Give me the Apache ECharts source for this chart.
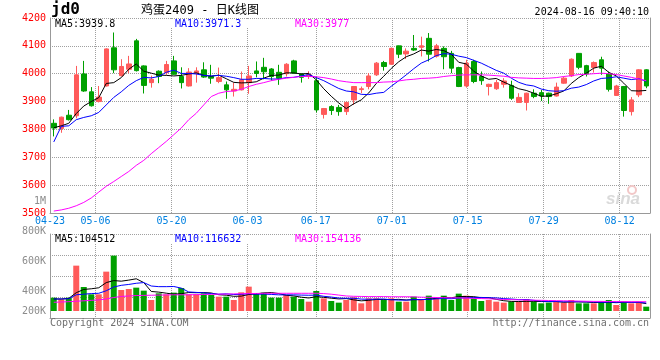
<!DOCTYPE html>
<html><head><meta charset="utf-8">
<script src="https://cdn.jsdelivr.net/npm/echarts@6/dist/echarts.min.js"></script>
<style>html,body{margin:0;padding:0;background:#fff}#c{width:660px;height:360px}</style>
</head><body><div id="c"></div>
<script>
// ---------- data ----------
const dates = ['04-23','04-24','04-25','04-26','04-29','04-30','05-06','05-07','05-08','05-09','05-10','05-13','05-14','05-15','05-16','05-17','05-20','05-21','05-22','05-23','05-24','05-27','05-28','05-29','05-30','05-31','06-03','06-04','06-05','06-06','06-07','06-11','06-12','06-13','06-14','06-17','06-18','06-19','06-20','06-21','06-24','06-25','06-26','06-27','06-28','07-01','07-02','07-03','07-04','07-05','07-08','07-09','07-10','07-11','07-12','07-15','07-16','07-17','07-18','07-19','07-22','07-23','07-24','07-25','07-26','07-29','07-30','07-31','08-01','08-02','08-05','08-06','08-07','08-08','08-09','08-12','08-13','08-14','08-15','08-16'];
const opens  = [3822,3803,3851,3849,3999,3935,3900,3956,4093,3993,4016,4118,4028,3968,4009,4004,4046,3990,3956,4002,4014,3990,3972,3960,3938,3942,3968,4010,4023,4017,4005,4000,4046,3999,3990,3975,3854,3882,3879,3864,3906,3943,3954,3996,4040,4034,4100,4071,4091,4095,4127,4063,4091,4073,4022,3956,4044,3990,3954,3946,3962,3958,3897,3897,3930,3932,3930,3920,3966,3992,4073,4029,4022,4050,3999,3922,3954,3864,3924,4014];
const closes = [3805,3844,3835,3996,3938,3885,3916,4089,4014,4026,4035,4011,3958,3980,3990,4033,3998,3968,4006,4010,3988,3984,3986,3942,3944,3978,3992,4001,4007,3990,3984,4034,4002,3987,3996,3870,3875,3868,3864,3897,3954,3946,3992,4038,4026,4091,4070,4081,4085,4100,4070,4100,4061,4020,3954,4038,3972,3975,3962,3968,3974,3912,3915,3930,3918,3920,3918,3952,3984,4052,4023,3999,4040,4020,3944,3956,3868,3906,4014,3956];
const lows   = [3775,3788,3832,3840,3935,3882,3897,3954,4002,3990,4002,4008,3929,3950,3966,3996,3996,3947,3954,3968,3985,3964,3966,3910,3918,3940,3928,3987,3980,3975,3960,3990,4000,3968,3981,3861,3839,3852,3849,3852,3888,3930,3944,3992,4011,4032,4056,4053,4082,4062,4044,4058,4016,4002,3952,3950,3966,3960,3922,3942,3950,3906,3897,3868,3912,3902,3892,3918,3964,3988,4016,3990,4004,3996,3936,3920,3846,3850,3916,3948];
const highs  = [3836,3846,3870,4028,4046,3952,3956,4091,4148,4052,4064,4125,4030,3993,4012,4046,4064,4023,4020,4023,4041,4032,4022,3972,3968,4008,4028,4044,4057,4020,4032,4038,4050,4001,4009,3990,3877,3887,3888,3900,3956,3954,4002,4042,4046,4094,4101,4091,4139,4133,4146,4107,4098,4082,4025,4050,4050,4008,3964,3978,3984,3975,3930,3932,3944,3942,3932,3968,3990,4055,4074,4032,4044,4061,4008,3960,3956,3916,4016,4016];
const ma5  = [3806,3813,3822,3857,3884,3900,3914,3965,3968,3986,4016,4035,4009,4002,3995,3994,3992,3994,3999,4003,3994,3991,3995,3982,3969,3967,3968,3971,3984,3994,3995,4003,4003,3999,4001,3978,3946,3919,3895,3875,3892,3906,3931,3965,3991,4019,4043,4061,4071,4085,4081,4087,4083,4070,4041,4035,4009,3992,3980,3983,3970,3958,3946,3940,3930,3919,3920,3928,3938,3965,3986,4002,4020,4027,4005,3992,3966,3939,3938,3940];
const ma10 = [3755,3811,3813,3835,3843,3849,3861,3888,3915,3935,3958,3975,3987,3985,3990,4005,4013,4001,4001,3999,3994,3992,3994,3991,3986,3980,3980,3983,3983,3981,3981,3986,3987,3992,3997,3986,3975,3961,3947,3938,3935,3926,3925,3930,3933,3955,3975,3996,4018,4038,4050,4065,4072,4070,4063,4058,4048,4038,4025,4012,4002,3984,3969,3960,3956,3945,3939,3937,3939,3948,3952,3961,3974,3983,3985,3989,3984,3979,3982,3973];
const ma30 = [3507,3511,3517,3526,3538,3554,3575,3596,3613,3631,3649,3671,3689,3713,3735,3757,3781,3805,3835,3858,3888,3918,3930,3936,3938,3944,3954,3962,3968,3975,3980,3984,3987,3990,3990,3989,3986,3981,3975,3971,3968,3968,3968,3968,3970,3971,3974,3978,3980,3983,3984,3986,3990,3993,3995,3996,3996,3996,3995,3993,3991,3987,3985,3984,3983,3983,3984,3986,3990,3993,3997,3998,4000,4002,4000,3997,3992,3987,3981,3975];
const volumes = [88900,77800,88900,302200,160000,111100,111100,262200,368900,140000,146700,155600,135600,73300,117800,111100,122200,153300,111100,111100,117800,106700,95600,95600,73300,124400,162200,117800,122200,88900,88900,106700,95600,80000,62200,133300,84400,66700,55600,73300,91100,51100,84400,84400,73300,84400,62200,62200,95600,73300,102200,88900,102200,73300,115600,102200,84400,66700,73300,62200,55600,62200,62200,80000,62200,51100,55600,66700,55600,73300,51100,51100,51100,62200,73300,40000,62200,51100,62200,28900];
const volMa5  = [80000,80000,84000,122000,143600,148000,154700,189300,202700,198700,205800,214700,189400,130200,125800,118700,112000,115500,123100,121800,123100,120000,108500,105400,97800,99100,110200,114700,120000,123100,116000,104900,100500,92000,86700,95600,91100,85300,80400,82700,74200,67600,71100,76900,76900,75500,77700,73300,75500,75500,79100,84400,92400,88000,96400,96400,95500,88400,88400,77800,68400,64000,63100,64400,64400,63500,62200,63100,58200,60500,60500,59600,56400,57800,57800,55500,57800,57800,57800,48900];
const volMa10 = [80000,80000,82000,108000,112000,116000,118000,135000,160000,171100,176900,184700,189300,166500,162200,162200,163300,152500,126700,123800,120900,116000,112000,114200,109800,111100,115100,111600,112700,110500,107600,107600,107600,106000,104900,105800,98000,92900,86200,84700,84900,79300,78200,78700,79800,74900,72700,72200,76200,76200,77300,81100,82900,81800,86000,87800,90000,90400,88200,87100,82400,79800,75800,76400,71100,66000,63100,63100,61300,62500,62000,60900,59800,58000,59100,58000,58700,57100,57800,53300];
const volMa30 = [58000,60000,62000,65000,68000,71000,74000,80000,90000,97000,100000,103000,104000,105000,106000,107000,108000,108000,108000,109000,110000,111000,112000,113000,114000,115000,116000,117000,118000,118000,118000,118000,118000,118000,118000,118000,116000,112000,106000,100000,98000,97000,96000,96000,96000,95000,95000,95000,94000,92000,91000,90000,89000,88000,87000,86000,84000,83000,81000,79000,77000,76000,74000,73000,72000,71000,70000,69000,68000,67000,66000,65000,64000,64000,63000,63000,62000,62000,62000,62000];
const dateTickLabels = ['04-23','05-06','05-20','06-03','06-17','07-01','07-15','07-29','08-12'];
const priceTicks = [3500,3600,3700,3800,3900,4000,4100,4200];
const volTickValues = [200000,400000,600000,800000,1000000];
const volTickLabels = ['200K','400K','600K','800K','1M'];
const maNames = ['MA5','MA10','MA30'];
const priceMaLast = ['3939.8','3971.3','3977'];
const volMaLast = ['104512','116632','154136'];
const titleCode = 'jd0';
const titleName = '鸡蛋2409 - 日K线图';
const timeStamp = '2024-08-16 09:40:10';
const copyrightText = 'Copyright 2024 SINA.COM';
const urlText = 'http://finance.sina.com.cn';

// ---------- styles ----------
const RED = '#FF5A5A', GREEN = '#00A000';
const MA_COLORS = ['#000000', '#0000FF', '#FF00FF'];
const MONO = '"DejaVu Sans Mono", "Liberation Mono", monospace';
const GRIDC = '#A0A0A0', BORDER = '#999999';
const dotted = { color: GRIDC, type: [1, 1], width: 1 };
const isTick = (i) => dateTickLabels.indexOf(dates[i]) >= 0;
const L = 50, W = 600;

const chart = echarts.init(document.getElementById('c'), null, { renderer: 'canvas' });

const priceMaSeries = [ma5, ma10, ma30].map((d, k) => ({
  type: 'line', name: maNames[k], xAxisIndex: 0, yAxisIndex: 0, data: d,
  symbol: 'none', silent: true, z: 4, lineStyle: { color: MA_COLORS[k], width: 1 }
}));
const volMaSeries = [volMa5, volMa10, volMa30].map((d, k) => ({
  type: 'line', name: 'V' + maNames[k], xAxisIndex: 2, yAxisIndex: 2, data: d,
  symbol: 'none', silent: true, z: 4, lineStyle: { color: MA_COLORS[k], width: 1 }
}));

function maTexts(values, y) {
  const xs = [55, 175, 295];
  return values.map((v, k) => ({
    type: 'text', z: 101, x: xs[k], y: y,
    style: { text: maNames[k] + ':' + v, font: '10px ' + MONO, fill: MA_COLORS[k], verticalAlign: 'middle', align: 'left' }
  }));
}

const option = {
  animation: false,
  backgroundColor: '#fff',
  grid: [
    { left: L, top: 18, width: W, height: 195, outerBoundsMode: 'none' },
    { left: L, top: 234, width: W, height: 77, outerBoundsMode: 'none' },
    { left: L, top: 234, width: W, height: 84, outerBoundsMode: 'none' },
    { left: L, top: 201, width: W, height: 120, outerBoundsMode: 'none' }
  ],
  xAxis: [
    { type: 'category', gridIndex: 0, data: dates, boundaryGap: true, show: false, position: 'top' },
    { type: 'category', gridIndex: 0, data: dates, boundaryGap: false, position: 'bottom',
      axisLine: { show: true, onZero: false, lineStyle: { color: BORDER } }, axisTick: { show: false },
      axisLabel: { interval: (i) => isTick(i), color: '#0080E0', fontFamily: MONO, fontSize: 10, margin: 3 },
      splitLine: { show: true, interval: (i) => isTick(i), lineStyle: dotted } },
    { type: 'category', gridIndex: 1, data: dates, boundaryGap: true, show: false },
    { type: 'category', gridIndex: 2, data: dates, boundaryGap: false, position: 'bottom',
      axisLine: { show: true, onZero: false, lineStyle: { color: BORDER } }, axisTick: { show: false },
      axisLabel: { show: false },
      splitLine: { show: true, interval: (i) => isTick(i), lineStyle: dotted } },
    { type: 'value', gridIndex: 3, show: false, min: 0, max: 1 }
  ],
  yAxis: [
    { type: 'value', gridIndex: 0, min: priceTicks[0], max: priceTicks[priceTicks.length - 1], interval: 100,
      axisLine: { show: true, lineStyle: { color: BORDER } }, axisTick: { show: false },
      axisLabel: { color: '#FF0000', fontFamily: MONO, fontSize: 10, margin: 4,
        formatter: (v) => { const k = priceTicks.indexOf(v); return k < 0 ? '' : String(priceTicks[k]); } },
      splitLine: { show: true, lineStyle: dotted } },
    { type: 'value', gridIndex: 0, position: 'right', min: priceTicks[0], max: priceTicks[priceTicks.length - 1],
      axisLine: { show: true, lineStyle: { color: BORDER } }, axisTick: { show: false },
      axisLabel: { show: false }, splitLine: { show: false } },
    { type: 'value', gridIndex: 1, min: 0, max: 513000, show: false, splitLine: { show: false } },
    { type: 'value', gridIndex: 2, min: 0, max: 4, interval: 1,
      axisLine: { show: true, lineStyle: { color: BORDER } }, axisTick: { show: false },
      axisLabel: { show: false }, splitLine: { show: true, lineStyle: dotted } },
    { type: 'value', gridIndex: 2, position: 'right', min: 0, max: 4,
      axisLine: { show: true, lineStyle: { color: BORDER } }, axisTick: { show: false },
      axisLabel: { show: false }, splitLine: { show: false } },
    { type: 'value', gridIndex: 3, min: volTickValues[0], max: volTickValues[volTickValues.length - 1], interval: 200000,
      axisLine: { show: false }, axisTick: { show: false }, splitLine: { show: false },
      axisLabel: { color: '#8C8C8C', fontFamily: MONO, fontSize: 10, margin: 4,
        showMinLabel: true, showMaxLabel: true, hideOverlap: false,
        formatter: (v) => {
          const k = volTickValues.indexOf(v);
          if (k < 0) return '';
          return k === 0 ? '{low|' + volTickLabels[k] + '}' : volTickLabels[k];
        },
        rich: { low: { color: '#8C8C8C', fontFamily: MONO, fontSize: 10, padding: [0, 0, 20, 0] } } } }
  ],
  series: [
    { type: 'candlestick', xAxisIndex: 0, yAxisIndex: 0, barWidth: 5, z: 3,
      data: dates.map((d, i) => [opens[i], closes[i], lows[i], highs[i]]),
      itemStyle: { color: RED, color0: GREEN, borderColor: RED, borderColor0: GREEN, borderWidth: 1 } },
    ...priceMaSeries,
    { type: 'bar', xAxisIndex: 2, yAxisIndex: 2, barWidth: 6, z: 3,
      data: volumes.map((v, i) => ({ value: v, itemStyle: { color: closes[i] >= opens[i] ? RED : GREEN } })) },
    ...volMaSeries
  ],
  graphic: [
    { type: 'rect', z: 100, shape: { x: 51, y: 19.5, width: 300, height: 8.5 }, style: { fill: '#fff' } },
    { type: 'rect', z: 100, shape: { x: 51, y: 235, width: 300, height: 8.5 }, style: { fill: '#fff' } },
    ...maTexts(priceMaLast, 24),
    ...maTexts(volMaLast, 239),
    { type: 'text', z: 101, x: 51, y: 10, style: { text: titleCode, font: 'bold 16px ' + MONO, fill: '#000', verticalAlign: 'middle', align: 'left' } },
    { type: 'text', z: 101, x: 200, y: 11, style: { text: titleName, font: '12px "DejaVu Sans Mono", "Noto Sans CJK SC"', fill: '#000', verticalAlign: 'middle', align: 'center' } },
    { type: 'text', z: 101, x: 649, y: 12, style: { text: timeStamp, font: '10px ' + MONO, fill: '#000', verticalAlign: 'middle', align: 'right' } },
    { type: 'text', z: 101, x: 50, y: 323, style: { text: copyrightText, font: '10px ' + MONO, fill: '#707070', verticalAlign: 'middle', align: 'left' } },
    { type: 'text', z: 101, x: 649, y: 323, style: { text: urlText, font: '10px ' + MONO, fill: '#707070', verticalAlign: 'middle', align: 'right' } },
    { type: 'circle', z: 1, shape: { cx: 632, cy: 190, r: 4 }, style: { fill: 'none', stroke: '#F2C8C8', lineWidth: 2 } },
    { type: 'text', z: 1, x: 640, y: 199, style: { text: 'sina', font: 'italic bold 17px "Liberation Sans"', fill: '#DADADA', verticalAlign: 'middle', align: 'right' } }
  ]
};
chart.setOption(option);
</script></body></html>
